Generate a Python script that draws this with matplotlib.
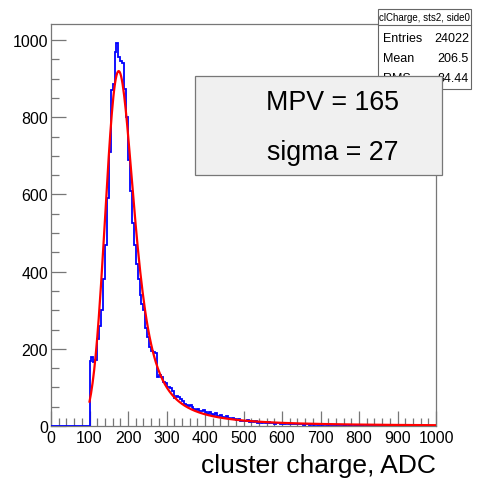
import numpy as np
import matplotlib
matplotlib.use("Agg")
import matplotlib.pyplot as plt
from matplotlib.patches import Rectangle
from matplotlib.ticker import MultipleLocator

plt.rcParams['font.family'] = ['Liberation Sans', 'DejaVu Sans']

# ---- histogram: cluster charge, 5 ADC bins from 0 to 1000 ----
BIN_WIDTH = 5
x_min, x_max = 0, 1000
counts_below_100 = [0] * 20
counts_100_300 = [
    168, 178, 166, 172, 225, 258, 300, 380, 470, 590,
    710, 870, 885, 968, 992, 955, 945, 940, 872, 800,
    690, 610, 525, 470, 420, 380, 340, 315, 300, 255,
    230, 205, 195, 192, 190, 128, 132, 128, 115, 112,
]
counts_300_500 = [
    102, 100, 98, 90, 72, 78, 74, 70, 66, 58,
    55, 52, 55, 50, 45, 42, 44, 40, 38, 41,
    35, 32, 36, 30, 28, 33, 27, 25, 29, 24,
    22, 26, 20, 18, 21, 17, 15, 19, 14, 13,
]
counts_500_1000 = [
    14, 12, 15, 11, 13, 10, 12, 9, 11, 8, 10, 9, 8, 10, 7, 8, 6, 7, 8, 6,
    6, 5, 7, 5, 6, 4, 5, 6, 4, 5, 4, 3, 5, 4, 3, 4, 3, 4, 3, 3,
    3, 2, 4, 3, 2, 3, 3, 2, 2, 3, 2, 2, 1, 2, 2, 1, 2, 2, 1, 2,
    1, 2, 1, 1, 2, 1, 1, 1, 0, 1, 1, 1, 0, 1, 1, 0, 1, 1, 0, 1,
    1, 0, 1, 0, 1, 0, 0, 1, 0, 1, 0, 0, 1, 0, 0, 1, 0, 0, 0, 1,
]
counts = np.array(counts_below_100 + counts_100_300 + counts_300_500 + counts_500_1000, float)
edges = np.arange(x_min, x_max + BIN_WIDTH, BIN_WIDTH)

# ---- stats / fit results ----
hist_title = "clCharge, sts2, side0"
entries = 24022
mean = 206.5
rms = 84.44
MPV = 165.0        # Landau most probable value
SIGMA = 27.0       # Gaussian smearing
LANDAU_WIDTH = 12.5
FIT_NORM = 20800.0
fit_range = (100, 1000)


def landau_phi(lam):
    """Landau density phi(lambda) by direct numerical integration."""
    lam = np.atleast_1d(np.asarray(lam, float))
    out = np.zeros_like(lam)
    s = np.linspace(0.0, np.sqrt(40.0), 20001)
    t = s ** 2
    tlogt = np.where(t > 0, t * np.log(np.where(t > 0, t, 1.0)), 0.0)
    jac = 2 * s
    ok = np.where((lam > -3.0) & (lam <= 100.0))[0]
    for i in range(0, len(ok), 64):
        idx = ok[i:i + 64]
        integrand = np.exp(-tlogt[None, :] - lam[idx, None] * t[None, :]) \
            * np.sin(np.pi * t[None, :]) * jac[None, :]
        out[idx] = np.trapezoid(integrand, s, axis=1) / np.pi
    big = lam > 100.0
    out[big] = 1.0 / lam[big] ** 2
    return out


def langaus(x, mpv, lwidth, gsigma, norm):
    mpc = mpv + 0.22278298 * lwidth
    y = np.arange(-150.0, 1400.0, 1.0)
    lam_grid = np.linspace(-3.0, 100.0, 3000)
    phi_grid = landau_phi(lam_grid)
    lam = (y - mpc) / lwidth
    L = np.interp(lam, lam_grid, phi_grid, left=0.0, right=np.nan)
    far = lam > 100.0
    L[far] = 1.0 / lam[far] ** 2
    L = L / lwidth
    g = np.exp(-0.5 * ((x[:, None] - y[None, :]) / gsigma) ** 2) / (np.sqrt(2 * np.pi) * gsigma)
    return norm * BIN_WIDTH * (g * L[None, :]).sum(axis=1)


xf = np.linspace(fit_range[0], fit_range[1], 451)
yf = langaus(xf, MPV, LANDAU_WIDTH, SIGMA, FIT_NORM)

# ---- figure ----
fig = plt.figure(figsize=(4.8, 4.81), dpi=100)
ax = fig.add_axes([51 / 480, 54 / 481, 385 / 480, 402 / 481])

ax.stairs(counts, edges, color='#0000ff', lw=1.3, zorder=3)
ax.plot(xf, yf, color='#ff0000', lw=1.6, zorder=4)

ax.set_xlim(x_min, x_max)
ax.set_ylim(0, 1.05 * counts.max())

ax.xaxis.set_major_locator(MultipleLocator(100))
ax.xaxis.set_minor_locator(MultipleLocator(20))
ax.yaxis.set_major_locator(MultipleLocator(200))
ax.yaxis.set_minor_locator(MultipleLocator(50))
frame_col = '#777777'
ax.tick_params(which='both', direction='in', top=False, right=False,
               color=frame_col, width=0.9, labelsize=11.5, labelcolor='black')
ax.tick_params(which='major', length=11)
ax.tick_params(which='minor', length=5.5)
ax.tick_params(axis='y', which='major', pad=2)
ax.tick_params(axis='x', which='major', pad=3)
for sp in ax.spines.values():
    sp.set_color(frame_col)
    sp.set_linewidth(0.9)

ax.set_xlabel("cluster charge, ADC", fontsize=19, loc='right', labelpad=6)

# stats box (top right, partly hidden by the fit box)
W, H = 480, 481
def fx(px):
    return px / W
def fy(py):
    return 1 - py / H

sx0, sx1, sy0, sy1 = 378, 471, 10, 90
fig.patches.append(Rectangle((fx(sx0), fy(sy1)), fx(sx1) - fx(sx0), fy(sy0) - fy(sy1),
                             transform=fig.transFigure, facecolor='white',
                             edgecolor='#666666', lw=0.8, zorder=5))
fig.lines.append(plt.Line2D([fx(sx0), fx(sx1)], [fy(26), fy(26)], transform=fig.transFigure,
                            color='#666666', lw=0.8, zorder=6))
fig.text(fx((sx0 + sx1) / 2), fy(18), hist_title, ha='center', va='center', fontsize=7, zorder=7)
rows = [("Entries", f"{entries}"), ("Mean", f"{mean:.1f}"), ("RMS", f"{rms:.2f}")]
for i, (k, v) in enumerate(rows):
    yy = fy(39 + 20 * i)
    fig.text(fx(sx0 + 5), yy, k, ha='left', va='center', fontsize=9, zorder=7)
    fig.text(fx(sx1 - 2), yy, v, ha='right', va='center', fontsize=9, zorder=7)

# fit result box
bx0, bx1, by0, by1 = 195, 442, 77, 176
fig.patches.append(Rectangle((fx(bx0), fy(by1)), fx(bx1) - fx(bx0), fy(by0) - fy(by1),
                             transform=fig.transFigure, facecolor='#f0f0f0',
                             edgecolor='#777777', lw=0.9, zorder=8))
fig.text(fx(333), fy(103), f"MPV = {MPV:.0f}", ha='center', va='center', fontsize=19.3, zorder=9)
fig.text(fx(333), fy(153), f"sigma = {SIGMA:.0f}", ha='center', va='center', fontsize=19.3, zorder=9)

fig.savefig("out.png", dpi=100)
